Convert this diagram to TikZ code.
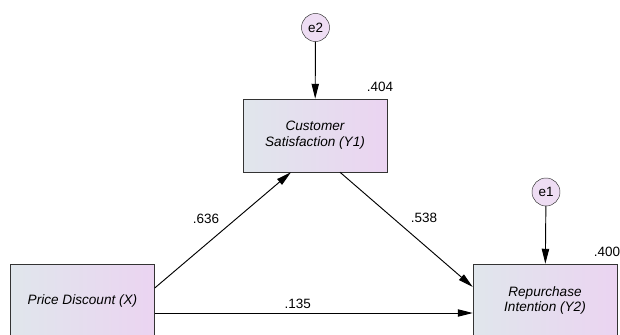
\documentclass[tikz,border=0pt]{standalone}
\usepackage{fontspec}
\setmainfont{Liberation Sans}
\usetikzlibrary{arrows.meta}
\definecolor{boxleft}{HTML}{E0E6EC}
\definecolor{boxright}{HTML}{EBD4F1}
\definecolor{errfill}{HTML}{EEDDF3}
\tikzstyle{varblock} = [draw=black!80, left color=boxleft, right color=boxright, minimum width=4.32cm, minimum height=2.19cm, align=center, font=\fontsize{11.6}{13.6}\selectfont\itshape]
\tikzstyle{errcircle} = [draw=black!80, fill=errfill, circle, minimum size=0.84cm, inner sep=0pt, font=\fontsize{11.5}{13}\selectfont]
\tikzstyle{path} = [-{Triangle[length=4.5mm, width=2.2mm]}, line width=0.8pt]

\begin{document}
\begin{tikzpicture}[x=0.03cm, y=-0.03cm, font=\fontsize{11.5}{13}\selectfont]
      \useasboundingbox (0, 0) rectangle (620, 334);
      \clip (0, 0) rectangle (620, 334);
      \node[varblock] (x) at (82.5, 300.5) {Price Discount (X)};
      \node[varblock] (y1) at (315, 135.5) {Customer\\Satisfaction (Y1)};
      \node[varblock] (y2) at (545, 300.5) {Repurchase\\Intention (Y2)};
      \node[errcircle] (e2) at (315.5, 27.5) {e2};
      \node[errcircle] (e1) at (546, 192) {e1};
      \node (r2y1) at (380, 87) {.404};
      \node (r2y2) at (607, 252) {.400};
      \node (b1) at (206, 219) {.636};
      \node (b2) at (424, 218) {.538};
      \draw[path] (e2) -- (y1);
      \draw[path] (e1) -- (y2);
      \draw[path] ([yshift=0.375cm]x.east) -- ([xshift=-0.72cm]y1.south);
      \draw[path] ([xshift=0.75cm]y1.south) -- ([yshift=0.405cm]y2.west);
      \draw[path] ([yshift=-0.375cm]x.east) -- node[above, pos=0.45] (b3) {.135} ([yshift=-0.375cm]y2.west);
    \end{tikzpicture}
\end{document}
